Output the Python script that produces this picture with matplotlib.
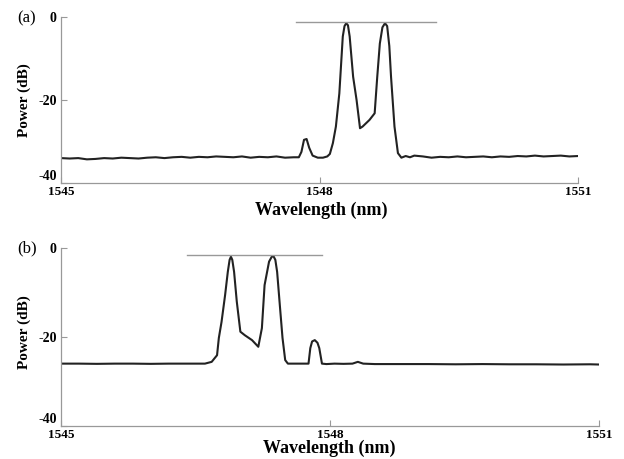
import matplotlib
matplotlib.use('Agg')
import matplotlib.pyplot as plt

# Espectro (a): comprimento de onda (nm) e potencia (dB)
wl_a = [1545.00, 1545.10, 1545.20, 1545.30, 1545.40, 1545.50, 1545.60, 1545.70,
        1545.80, 1545.90, 1546.00, 1546.10, 1546.20, 1546.30, 1546.40, 1546.50,
        1546.60, 1546.70, 1546.80, 1546.90, 1547.00, 1547.10, 1547.20, 1547.30,
        1547.40, 1547.50, 1547.60, 1547.70, 1547.76, 1547.79, 1547.82, 1547.85,
        1547.88, 1547.92, 1547.98, 1548.04, 1548.09, 1548.12, 1548.155, 1548.19,
        1548.23, 1548.27, 1548.29, 1548.31, 1548.33, 1548.35, 1548.39, 1548.43,
        1548.47, 1548.50, 1548.54, 1548.58, 1548.64, 1548.67, 1548.70, 1548.73,
        1548.76, 1548.785, 1548.81, 1548.83, 1548.87, 1548.91, 1548.95, 1549.00,
        1549.05, 1549.10, 1549.20, 1549.30, 1549.40, 1549.50, 1549.60, 1549.70,
        1549.80, 1549.90, 1550.00, 1550.10, 1550.20, 1550.30, 1550.40, 1550.50,
        1550.60, 1550.70, 1550.80, 1550.90, 1551.00]
pw_a = [-34.0, -34.1, -34.0, -34.3, -34.2, -34.0, -34.1, -33.9,
        -34.0, -34.1, -33.9, -33.8, -34.0, -33.8, -33.7, -33.9,
        -33.7, -33.8, -33.6, -33.7, -33.8, -33.6, -33.9, -33.7,
        -33.8, -33.6, -33.9, -33.8, -33.8, -32.5, -29.6, -29.4,
        -31.5, -33.4, -33.9, -33.9, -33.6, -33.0, -30.4, -26.4,
        -18.4, -4.7, -2.2, -1.5, -2.0, -4.7, -14.4, -20.0,
        -26.8, -26.4, -25.6, -24.8, -23.2, -14.4, -6.4, -2.5,
        -1.5, -2.2, -7.0, -14.4, -26.4, -32.8, -33.9, -33.5,
        -33.8, -33.4, -33.6, -33.9, -33.7, -33.8, -33.6, -33.8,
        -33.7, -33.6, -33.8, -33.6, -33.7, -33.5, -33.6, -33.4,
        -33.6, -33.5, -33.4, -33.6, -33.5]

# Espectro (b)
wl_b = [1545.00, 1545.20, 1545.40, 1545.60, 1545.80, 1546.00, 1546.20, 1546.40,
        1546.55, 1546.605, 1546.68, 1546.74, 1546.76, 1546.79, 1546.83, 1546.86,
        1546.88, 1546.895, 1546.91, 1546.93, 1546.96, 1547.00, 1547.05, 1547.13,
        1547.20, 1547.24, 1547.27, 1547.32, 1547.35, 1547.37, 1547.39, 1547.41,
        1547.44, 1547.47, 1547.50, 1547.53, 1547.60, 1547.70, 1547.76, 1547.78,
        1547.80, 1547.83, 1547.86, 1547.88, 1547.91, 1547.96, 1548.05, 1548.15,
        1548.25, 1548.31, 1548.37, 1548.50, 1548.80, 1549.10, 1549.40, 1549.70,
        1550.00, 1550.30, 1550.60, 1550.90, 1551.00]
pw_b = [-26.0, -26.0, -26.05, -26.0, -26.0, -26.05, -26.0, -26.0,
        -26.0, -26.0, -25.6, -24.1, -20.2, -16.6, -10.5, -5.3,
        -2.6, -1.9, -2.6, -5.3, -12.0, -18.8, -19.6, -20.7,
        -22.2, -18.0, -8.3, -3.0, -1.9, -1.8, -2.6, -5.3,
        -12.8, -20.2, -25.2, -26.0, -26.0, -26.0, -26.0, -22.5,
        -21.0, -20.7, -21.3, -22.5, -26.0, -26.1, -26.0, -26.05,
        -26.0, -25.6, -26.0, -26.1, -26.1, -26.1, -26.15, -26.1,
        -26.15, -26.15, -26.2, -26.15, -26.2]

# Linhas horizontais de referencia (nivel dos picos)
ref_a = ([1547.73, 1549.35], [-1.1, -1.1])
ref_b = ([1546.40, 1547.91], [-1.4, -1.4])

xticks = [1545, 1548, 1551]
yticks = [0, -20, -40]

serif = 'Liberation Serif'
fig = plt.figure(figsize=(6.24, 4.59), dpi=100)

ax_a = fig.add_axes([0.0978, 0.6013, 0.8285, 0.3617])
ax_b = fig.add_axes([0.0978, 0.0725, 0.8622, 0.3865])

paineis = [(ax_a, wl_a, pw_a, ref_a, (0.504, -0.163), (-0.0706, 0.5)),
           (ax_b, wl_b, pw_b, ref_b, (0.498, -0.125), (-0.0678, 0.525))]

for ax, wl, pw, ref, xlab_pos, ylab_pos in paineis:
    ax.plot(wl, pw, color='#222222', lw=1.5, solid_joinstyle='round')
    ax.plot(ref[0], ref[1], color='#999999', lw=1.0)
    ax.set_xlim(1545, 1551)
    ax.set_ylim(-40, 0)
    ax.set_xticks(xticks)
    ax.set_yticks(yticks)
    ax.set_xticklabels([str(t) for t in xticks], fontfamily=serif, fontweight='bold', fontsize=9.5)
    ax.set_yticklabels([str(t) for t in yticks], fontfamily=serif, fontweight='bold', fontsize=10)
    for lado in ['top', 'right']:
        ax.spines[lado].set_visible(False)
    for lado in ['left', 'bottom']:
        ax.spines[lado].set_color('#999999')
        ax.spines[lado].set_linewidth(0.9)
    ax.tick_params(direction='in', length=4, width=0.8, color='#999999')
    ax.tick_params(axis='x', pad=2)
    ax.tick_params(axis='y', pad=3)
    # o rotulo -40 fica um pouco acima, como na figura original
    ax.get_yticklabels()[-1].set_va('bottom')
    ax.set_xlabel('Wavelength (nm)', fontfamily=serif, fontweight='bold', fontsize=13, va='center')
    ax.xaxis.set_label_coords(*xlab_pos)
    ax.set_ylabel('Power (dB)', fontfamily=serif, fontweight='bold', fontsize=11, va='center')
    ax.yaxis.set_label_coords(*ylab_pos)

fig.text(17 / 624, 1 - 18 / 459, '(a)', fontfamily=serif, fontsize=12, va='center')
fig.text(17 / 624, 1 - 248 / 459, '(b)', fontfamily=serif, fontsize=12, va='center')

fig.savefig('out.png', dpi=100)
